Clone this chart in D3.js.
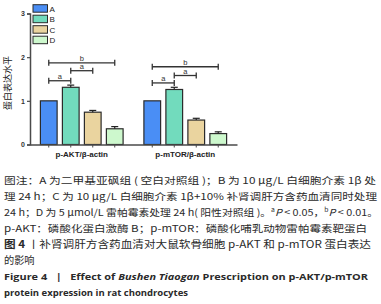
<!DOCTYPE html>
<html><head><meta charset="utf-8">
<script src="https://cdn.jsdelivr.net/npm/d3@7"></script>
<style>body{margin:0;background:#fff}svg{display:block}</style>
</head><body>
<svg id="c" width="381" height="304"></svg>
<script>
const groups = ["p-AKT/β-actin", "p-mTOR/β-actin"];
const seriesNames = ["A", "B", "C", "D"];
const seriesColors = ["#4a8ef5", "#72dbbd", "#ead49f", "#cdf8cd"];
const valuesAKT = [1.0, 1.31, 0.74, 0.36];
const errorsAKT = [0, 0.05, 0.04, 0.05];
const valuesMTOR = [1.0, 1.26, 0.56, 0.25];
const errorsMTOR = [0, 0.05, 0.04, 0.04];
const yTicks = [0, 1, 2, 3];
const yLabel = "蛋白表达水平";
// significance brackets: group index, from series, to series, label, level (data units)
const sigGroup = [0, 0, 0, 1, 1, 1];
const sigFrom = ["A", "B", "A", "A", "B", "A"];
const sigTo = ["B", "C", "D", "B", "C", "D"];
const sigLabel = ["a", "a", "b", "a", "a", "b"];
const sigLevel = [1.46, 1.69, 1.87, 1.41, 1.58, 1.78];

const svg = d3.select("#c");
const axisColor = "#4a4a4a";
const y = d3.scaleLinear().domain([0, 3]).range([144.5, 13.5]);
const x0 = d3.scaleBand().domain(groups).range([30, 237]).padding(0);
const x1 = d3.scaleBand().domain(seriesNames)
  .range([10.4, x0.bandwidth() - 10.4]).paddingInner(0.24).paddingOuter(0);
const color = d3.scaleOrdinal().domain(seriesNames).range(seriesColors);

const rows = [];
[valuesAKT, valuesMTOR].forEach((vals, gi) => {
  const errs = gi === 0 ? errorsAKT : errorsMTOR;
  vals.forEach((v, si) => rows.push({g: groups[gi], s: seriesNames[si], v, e: errs[si]}));
});

// bars
const bars = svg.append("g");
bars.selectAll("rect").data(rows).join("rect")
  .attr("x", d => x0(d.g) + x1(d.s))
  .attr("y", d => y(d.v))
  .attr("width", x1.bandwidth())
  .attr("height", d => y(0) - y(d.v))
  .attr("fill", d => color(d.s))
  .attr("stroke", "#2b2b2b").attr("stroke-width", 1.2);

// error bars
const eb = svg.append("g").attr("stroke", "#222").attr("stroke-width", 1.2);
rows.filter(d => d.e > 0).forEach(d => {
  const cx = x0(d.g) + x1(d.s) + x1.bandwidth() / 2;
  eb.append("line").attr("x1", cx).attr("x2", cx).attr("y1", y(d.v)).attr("y2", y(d.v + d.e));
  eb.append("line").attr("x1", cx - 3.5).attr("x2", cx + 3.5).attr("y1", y(d.v + d.e)).attr("y2", y(d.v + d.e));
});

// y axis
const yAxis = svg.append("g").attr("transform", "translate(30,0)")
  .call(d3.axisLeft(y).tickValues(yTicks).tickSize(3).tickPadding(2).tickFormat(d3.format("d")));
yAxis.select(".domain").attr("stroke", axisColor).attr("stroke-width", 1.5);
yAxis.selectAll(".tick line").attr("stroke", axisColor).attr("stroke-width", 1.2);
yAxis.selectAll(".tick text").attr("font-family", "Liberation Sans, Arial, sans-serif")
  .attr("font-size", 7).attr("font-weight", "bold").attr("fill", "#333");

// x axis
const xAxis = svg.append("g").attr("transform", `translate(0,${y(0)})`)
  .call(d3.axisBottom(x0).tickSize(0).tickPadding(7));
xAxis.select(".domain").attr("stroke", axisColor).attr("stroke-width", 1.5);
xAxis.selectAll(".tick text").attr("font-family", "Liberation Sans, Arial, sans-serif")
  .attr("font-size", 8).attr("font-weight", "bold").attr("fill", "#222");
// minor ticks at bar centers
const xt = svg.append("g").attr("stroke", axisColor).attr("stroke-width", 1);
rows.forEach(d => {
  const cx = x0(d.g) + x1(d.s) + x1.bandwidth() / 2;
  xt.append("line").attr("x1", cx).attr("x2", cx).attr("y1", y(0)).attr("y2", y(0) + 3);
});

// y label
svg.append("text").attr("transform", `translate(11,${(y(0) + y(3)) / 2 + 4}) rotate(-90)`)
  .attr("text-anchor", "middle").attr("font-family", "Noto Sans CJK SC, sans-serif")
  .attr("font-size", 9).attr("fill", "#222").text(yLabel);

// significance brackets
const sg = svg.append("g");
sigGroup.forEach((gi, i) => {
  const g = groups[gi];
  const xa = x0(g) + x1(sigFrom[i]) + x1.bandwidth() / 2;
  const xb = x0(g) + x1(sigTo[i]) + x1.bandwidth() / 2;
  const yy = y(sigLevel[i]);
  sg.append("line").attr("x1", xa).attr("x2", xb).attr("y1", yy).attr("y2", yy)
    .attr("stroke", "#333").attr("stroke-width", 1.3);
  [xa, xb].forEach(xx => sg.append("line").attr("x1", xx).attr("x2", xx)
    .attr("y1", yy - 3).attr("y2", yy + 3).attr("stroke", "#333").attr("stroke-width", 1.3));
  sg.append("text").attr("x", (xa + xb) / 2).attr("y", yy - 1.6).attr("text-anchor", "middle")
    .attr("font-family", "Liberation Sans, Arial, sans-serif").attr("font-size", 7.5)
    .attr("fill", "#333").text(sigLabel[i]);
});

// legend
const lg = svg.append("g");
seriesNames.forEach((s, i) => {
  lg.append("rect").attr("x", 33).attr("y", 4.7 + i * 10.5).attr("width", 14.5).attr("height", 7.5)
    .attr("fill", color(s)).attr("stroke", "#2b2b2b").attr("stroke-width", 1);
  lg.append("text").attr("x", 49.5).attr("y", 11.6 + i * 10.5)
    .attr("font-family", "Liberation Sans, Arial, sans-serif").attr("font-size", 8)
    .attr("fill", "#222").text(s);
});

// caption
const cap = svg.append("g").attr("font-family", "Noto Sans CJK SC, sans-serif").attr("fill", "#2a2a2a");
function line(yy, parts, len, opts = {}) {
  const t = cap.append("text").attr("x", 4).attr("y", yy).attr("font-size", opts.size || 9.6)
    .style("white-space", "pre");
  if (len) t.attr("textLength", len).attr("lengthAdjust", "spacingAndGlyphs");
  if (opts.family) t.attr("font-family", opts.family);
  if (opts.weight) t.attr("font-weight", opts.weight);
  parts.forEach(p => {
    const ts = t.append("tspan").text(p.t);
    if (p.i) ts.attr("font-style", "italic");
    if (p.sup) ts.attr("baseline-shift", "super").attr("font-size", 6);
    if (p.b) ts.attr("font-weight", "bold");
  });
  return t;
}
line(184, [{t: "图注：A 为二甲基亚砜组 ( 空白对照组 )；B 为 10 μg/L 白细胞介素 1β 处"}], 372);
line(200, [{t: "理 24 h；C 为 10 μg/L 白细胞介素 1β+10% 补肾调肝方含药血清同时处理"}], 373);
line(216, [{t: "24 h；D 为 5 μmol/L 雷帕霉素处理 24 h( 阳性对照组 )。"}, {t: "a", sup: 1}, {t: "P", i: 1}, {t: " < 0.05，"}, {t: "b", sup: 1}, {t: "P", i: 1}, {t: " < 0.01。"}], 374);
line(232, [{t: "p-AKT：磷酸化蛋白激酶 B；p-mTOR：磷酸化哺乳动物雷帕霉素靶蛋白"}], 363);
line(247.5, [{t: "图 4", b: 1}, {t: " 丨补肾调肝方含药血清对大鼠软骨细胞 p-AKT 和 p-mTOR 蛋白表达"}], 367, {size: 10.2});
line(263.5, [{t: "的影响"}], null, {size: 10.2});
line(280, [{t: "Figure 4   |   Effect of "}, {t: "Bushen Tiaogan", i: 1}, {t: " Prescription on p-AKT/p-mTOR"}], 364, {size: 9.6, family: "Open Sans, sans-serif", weight: "bold"});
line(296, [{t: "protein expression in rat chondrocytes"}], 184, {size: 9.6, family: "Open Sans, sans-serif", weight: "bold"});
</script>
</body></html>
